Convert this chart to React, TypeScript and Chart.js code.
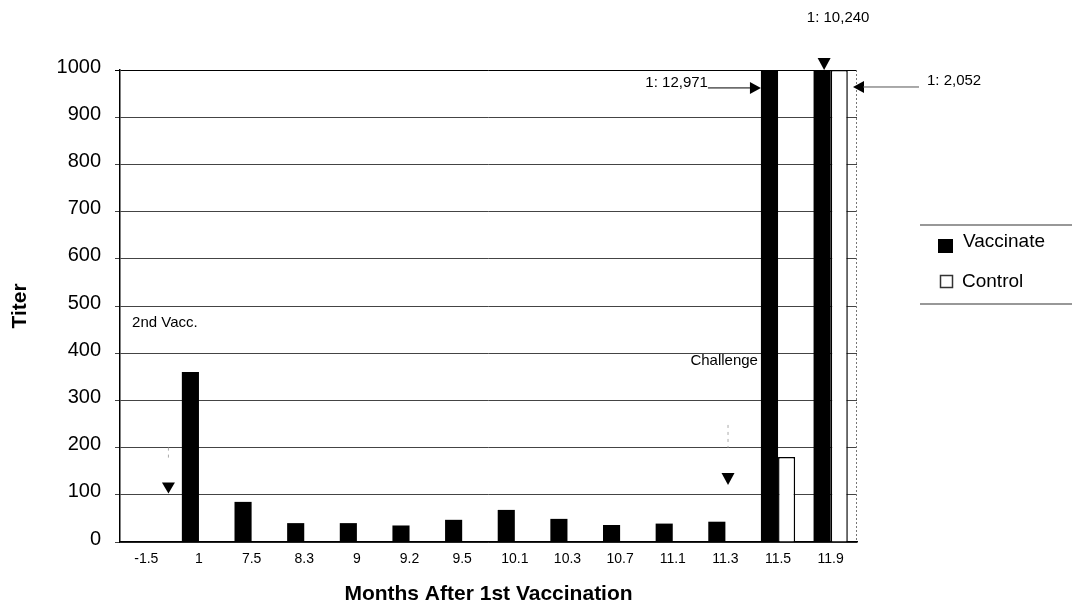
import React, { useEffect, useRef } from 'react';
import { Chart, registerables } from 'chart.js';

Chart.register(...registerables);

// ---- data ----
const categories = ['-1.5', '1', '7.5', '8.3', '9', '9.2', '9.5', '10.1', '10.3', '10.7', '11.1', '11.3', '11.5', '11.9'];
const vaccinateTiters = [0, 360, 85, 40, 40, 35, 47, 68, 49, 36, 39, 43, 1000, 1000];
const controlTiters = [0, 0, 0, 0, 0, 0, 0, 0, 0, 0, 0, 0, 180, 1000];
const seriesNames = ['Vaccinate', 'Control'];
const yMin = 0;
const yMax = 1000;
const yStep = 100;
const xTitle = 'Months After 1st Vaccination';
const yTitle = 'Titer';
const eventLabels = ['2nd Vacc.', 'Challenge'];
const offScaleLabels = ['1: 12,971', '1: 10,240', '1: 2,052'];

const FONT = "'Liberation Sans', Arial, Helvetica, sans-serif";

function triDown(ctx: CanvasRenderingContext2D, cx: number, top: number, w: number, h: number) {
  ctx.beginPath();
  ctx.moveTo(cx - w / 2, top);
  ctx.lineTo(cx + w / 2, top);
  ctx.lineTo(cx, top + h);
  ctx.closePath();
  ctx.fill();
}

function arrowHead(ctx: CanvasRenderingContext2D, tipX: number, y: number, dir: number) {
  ctx.beginPath();
  ctx.moveTo(tipX, y);
  ctx.lineTo(tipX - dir * 11, y - 6);
  ctx.lineTo(tipX - dir * 11, y + 6);
  ctx.closePath();
  ctx.fill();
}

const annotationPlugin = {
  id: 'annotations',
  afterDatasetsDraw(chart: any) {
    const ctx: CanvasRenderingContext2D = chart.ctx;
    const xs = chart.scales.x;
    const ys = chart.scales.y;
    const area = chart.chartArea;
    const m0 = chart.getDatasetMeta(0);
    const last = categories.length - 1;
    ctx.save();

    // right border of plot
    ctx.strokeStyle = '#777';
    ctx.lineWidth = 1;
    ctx.setLineDash([2, 2]);
    ctx.beginPath();
    ctx.moveTo(area.right - 0.5, area.top);
    ctx.lineTo(area.right - 0.5, area.bottom);
    ctx.stroke();
    ctx.setLineDash([]);

    ctx.fillStyle = '#000';
    ctx.strokeStyle = '#000';
    ctx.textBaseline = 'alphabetic';

    // 2nd Vacc.
    ctx.font = `15px ${FONT}`;
    ctx.textAlign = 'left';
    ctx.fillText(eventLabels[0], xs.getPixelForValue(-0.27), ys.getPixelForValue(455));
    const vx = xs.getPixelForValue(0.42);
    ctx.strokeStyle = '#aaa';
    ctx.setLineDash([3, 4]);
    ctx.beginPath();
    ctx.moveTo(vx, ys.getPixelForValue(200));
    ctx.lineTo(vx, ys.getPixelForValue(175));
    ctx.stroke();
    ctx.setLineDash([]);
    triDown(ctx, vx, ys.getPixelForValue(126), 13, 11);

    // Challenge
    const b12 = m0.data[12];
    ctx.textAlign = 'right';
    ctx.fillText(eventLabels[1], b12.x - b12.width / 2 - 3, ys.getPixelForValue(375));
    const cx = xs.getPixelForValue(11.05);
    ctx.strokeStyle = '#aaa';
    ctx.setLineDash([3, 4]);
    ctx.beginPath();
    ctx.moveTo(cx, ys.getPixelForValue(248));
    ctx.lineTo(cx, ys.getPixelForValue(200));
    ctx.stroke();
    ctx.setLineDash([]);
    triDown(ctx, cx, ys.getPixelForValue(146), 13, 12);

    // off-scale labels
    ctx.strokeStyle = '#000';
    ctx.lineWidth = 1;
    const leftEdge = b12.x - b12.width / 2;
    const ay = ys.getPixelForValue(962);
    ctx.beginPath();
    ctx.moveTo(leftEdge - 53, ay);
    ctx.lineTo(leftEdge - 10, ay);
    ctx.stroke();
    arrowHead(ctx, leftEdge, ay, 1);
    ctx.textAlign = 'right';
    ctx.fillText(offScaleLabels[0], leftEdge - 53, ay - 1);

    const b13 = m0.data[last];
    triDown(ctx, b13.x + 2, area.top - 12, 13, 12);
    ctx.textAlign = 'center';
    ctx.fillText(offScaleLabels[1], b13.x + 16, area.top - 48);

    const ry = ys.getPixelForValue(964);
    const tipX = area.right - 4;
    arrowHead(ctx, tipX, ry, -1);
    ctx.strokeStyle = '#555';
    ctx.beginPath();
    ctx.moveTo(tipX + 10, ry);
    ctx.lineTo(tipX + 66, ry);
    ctx.stroke();
    ctx.textAlign = 'left';
    ctx.fillText(offScaleLabels[2], tipX + 74, ry - 2);

    // legend
    const lx = area.right + 63;
    ctx.strokeStyle = '#333';
    ctx.lineWidth = 1.2;
    ctx.beginPath();
    ctx.moveTo(lx, area.top + 155);
    ctx.lineTo(chart.width, area.top + 155);
    ctx.moveTo(lx, area.top + 234);
    ctx.lineTo(chart.width, area.top + 234);
    ctx.stroke();
    ctx.fillStyle = '#000';
    ctx.fillRect(lx + 18, area.top + 169, 15, 14);
    ctx.lineWidth = 1.5;
    ctx.strokeRect(lx + 20.5, area.top + 205.5, 12, 12);
    ctx.font = `19px ${FONT}`;
    ctx.textAlign = 'left';
    ctx.fillText(seriesNames[0], lx + 43, area.top + 177);
    ctx.fillText(seriesNames[1], lx + 42, area.top + 217);

    ctx.restore();
  },
};

export default function App() {
  const ref = useRef<HTMLCanvasElement | null>(null);
  useEffect(() => {
    if (!ref.current) return;
    const chart = new Chart(ref.current, {
      type: 'bar',
      data: {
        labels: categories,
        datasets: [
          {
            label: seriesNames[0],
            data: vaccinateTiters,
            backgroundColor: '#000',
            borderWidth: 0,
          },
          {
            label: seriesNames[1],
            data: controlTiters,
            backgroundColor: '#fff',
            borderColor: '#000',
            borderWidth: 1.5,
            borderSkipped: 'start',
          },
        ],
      },
      options: {
        responsive: false,
        animation: false,
        layout: { padding: { left: 0, right: 215, top: 70, bottom: 0 } },
        datasets: { bar: { categoryPercentage: 0.65, barPercentage: 1.0 } },
        plugins: { legend: { display: false }, tooltip: { enabled: false } },
        scales: {
          x: {
            type: 'category',
            grid: { display: false, drawTicks: false, tickLength: 0 },
            border: { display: true, color: '#000', width: 1.5 },
            ticks: {
              color: '#000',
              font: { family: FONT, size: 14 },
              padding: 9,
              autoSkip: false,
              maxRotation: 0,
            },
            title: {
              display: true,
              text: xTitle,
              color: '#000',
              font: { family: FONT, size: 21, weight: 'bold' },
              padding: { top: 0, bottom: 3 },
            },
            afterFit: (s: any) => { s.height = 68; },
          },
          y: {
            min: yMin,
            max: yMax,
            grid: {
              color: (c: any) => (c.tick && c.tick.value === yMax ? '#000' : '#444'),
              lineWidth: 1,
              drawTicks: true,
              tickLength: 5,
            },
            border: { display: true, color: '#000', width: 1.5 },
            ticks: {
              stepSize: yStep,
              color: '#000',
              font: { family: FONT, size: 20 },
              padding: 14,
              labelOffset: -3,
              callback: (v: any) => String(v),
            },
            title: {
              display: true,
              text: yTitle,
              color: '#000',
              font: { family: FONT, size: 21, weight: 'bold' },
              padding: { top: 8, bottom: 0 },
            },
            afterFit: (s: any) => { s.width = 120; },
          },
        },
      },
      plugins: [annotationPlugin],
    });
    return () => chart.destroy();
  }, []);
  return (
    <div style={{ position: 'absolute', left: 0, top: 0, width: 1072, height: 610, background: '#fff' }}>
      <canvas ref={ref} width={1072} height={610} style={{ width: 1072, height: 610, display: 'block' }} />
    </div>
  );
}
